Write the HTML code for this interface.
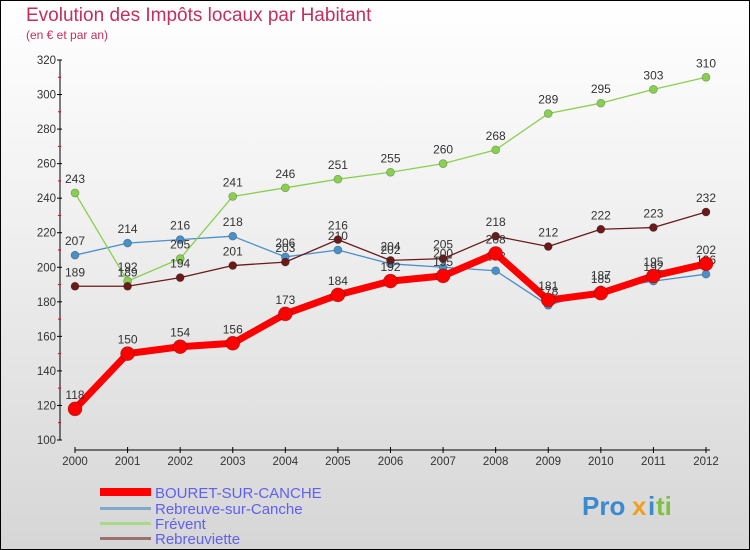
<!DOCTYPE html>
<html><head><meta charset="utf-8"><style>
body{margin:0}
#c{width:750px;height:550px;position:relative;box-sizing:border-box;border:1px solid #000;background:linear-gradient(#fff,#f0f0f0 40%,#d6d6d6);font-family:"Liberation Sans",sans-serif;overflow:hidden}
</style></head><body>
<div id="c">
<svg id="s" width="750" height="550" style="position:absolute;left:-1px;top:-1px">
<text x="26" y="21" font-size="19" fill="#c0305a">Evolution des Impôts locaux par Habitant</text>
<text x="26" y="39" font-size="12" fill="#c0305a">(en € et par an)</text>
<g id="axes"></g><g id="series"></g>
<g>
<rect x="100" y="488" width="51" height="8" fill="#f00"/>
<text x="155" y="498" font-size="15" fill="#6060f0">BOURET-SUR-CANCHE</text>
<rect x="100" y="507" width="51" height="3" fill="#7fa9cc"/>
<text x="155" y="514" font-size="15" fill="#6060f0">Rebreuve-sur-Canche</text>
<rect x="100" y="522" width="51" height="3" fill="#a8da8a"/>
<text x="155" y="529" font-size="15" fill="#6060f0">Frévent</text>
<rect x="100" y="537" width="51" height="3" fill="#9a7070"/>
<text x="155" y="544" font-size="15" fill="#6060f0">Rebreuviette</text>
</g>
<g font-size="26" font-weight="bold">
<text x="582" y="515" fill="#3a8ad0">Pro</text><text x="632" y="515" fill="#f0a020">x</text><text x="648" y="515" fill="#3a8ad0">i</text><text x="656" y="515" fill="#80c040">ti</text>
</g>
</svg>
</div>
<script>
const years=[2000,2001,2002,2003,2004,2005,2006,2007,2008,2009,2010,2011,2012];
const yTicks=[100,120,140,160,180,200,220,240,260,280,300,320];
const bouret=[118,150,154,156,173,184,192,195,208,181,185,195,202];
const rebreuve=[207,214,216,218,206,210,202,200,198,178,187,192,196];
const frevent=[243,192,205,241,246,251,255,260,268,289,295,303,310];
const rebreuviette=[189,189,194,201,203,216,204,205,218,212,222,223,232];
const NS="http://www.w3.org/2000/svg";
const X=i=>75+i*(706-75)/(years.length-1);
const Y=v=>440-(v-100)*380/220;
function mk(t,a,p){const e=document.createElementNS(NS,t);for(const k in a)e.setAttribute(k,a[k]);p.appendChild(e);return e;}
const ax=document.getElementById('axes');
let yl=mk('line',{x1:60,y1:60,x2:60,y2:440,stroke:'#000'},ax);


let xl=mk('line',{x1:75,y1:450,x2:710,y2:450,stroke:'#000'},ax);


yTicks.forEach(v=>{
 mk('line',{x1:57,y1:Y(v),x2:62,y2:Y(v),stroke:'#000'},ax);
 if(v<320) mk('line',{x1:58,y1:Y(v+10),x2:61,y2:Y(v+10),stroke:'#e00'},ax);
 const t=mk('text',{x:56,y:Y(v)+4,'text-anchor':'end','font-size':11.5,fill:'#333'},ax);t.textContent=v;
 
 
});
years.forEach((yr,i)=>{
 mk('line',{x1:X(i),y1:447,x2:X(i),y2:453,stroke:'#000'},ax);
 const t=mk('text',{x:X(i),y:465,'text-anchor':'middle','font-size':11.5,fill:'#333'},ax);t.textContent=yr;
 
 
});
const sg=document.getElementById('series');
function draw(vals,color,lw,r,name){
 const g=mk('g',{},sg);
 
 
 const pl=mk('polyline',{points:vals.map((v,i)=>X(i)+','+Y(v)).join(' '),fill:'none',stroke:color,'stroke-width':lw,'stroke-linejoin':'round'},g);
 
 
 vals.forEach((v,i)=>{
  const c=mk('circle',{cx:X(i),cy:Y(v),r:r,fill:color,stroke:'rgba(0,0,0,0.3)','stroke-width':0.7},g);
  
  
  const t=mk('text',{x:X(i),y:Y(v)-10,'text-anchor':'middle','font-size':12,fill:'#333'},g);t.textContent=v;
  
  
 });
}
draw(rebreuve,'#4a90c8',1.3,4,'series-rebreuve');
draw(frevent,'#8ad050',1.3,4,'series-frevent');
draw(rebreuviette,'#6a1a1a',1.3,4,'series-rebreuviette');
draw(bouret,'#f00',7,7,'series-bouret');
</script>
</body></html>
